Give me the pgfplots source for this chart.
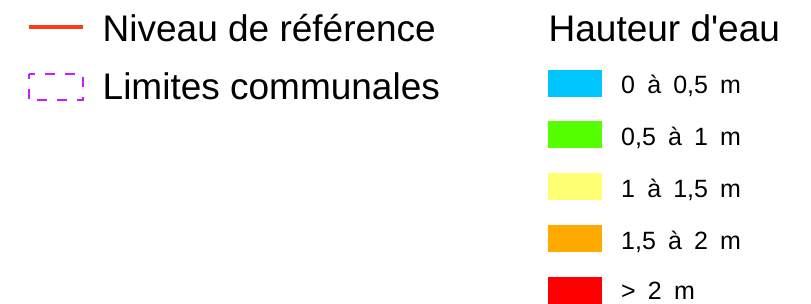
\documentclass[border=0pt]{standalone}
\usepackage{pgfplots}
\pgfplotsset{compat=1.18}
\usepackage{fontspec}
\setmainfont{Liberation Sans}[Ligatures=TeXOff]
\newfontfamily\lblfam{Liberation Sans}[Ligatures=TeX, WordSpace=1.75]
\definecolor{refline}{RGB}{250,60,25}
\definecolor{commune}{RGB}{204,26,255}
\definecolor{c1}{RGB}{0,197,255}
\definecolor{c2}{RGB}{85,255,0}
\definecolor{c3}{RGB}{255,255,115}
\definecolor{c4}{RGB}{255,170,0}
\definecolor{c5}{RGB}{255,0,0}
\newcommand{\lblfont}{\lblfam\fontsize{25}{30}\selectfont}
\begin{document}
\begin{tikzpicture}
\begin{axis}[
  width=811pt, height=304pt, scale only axis,
  xmin=0, xmax=811, ymin=0, ymax=304, y dir=reverse,
  hide axis, clip=false,
]
% background
\addplot[fill=white, draw=none] coordinates {(0,0) (811,0) (811,304) (0,304)} -- cycle;
% reference line
\addplot[refline, line width=4pt] coordinates {(29,27) (83,27)};
% communal limits (dashed box)
\addplot[commune, line width=2pt, dash pattern=on 10pt off 10pt, dash phase=3.3pt]
  coordinates {(28.5,74.5) (83,74.5) (83,100.5) (28.5,100.5)} -- cycle;
% water-depth swatches
\addplot[fill=c1, draw=none] coordinates {(548,70) (602,70) (602,97) (548,97)} -- cycle;
\addplot[fill=c2, draw=none] coordinates {(548,121.5) (602,121.5) (602,148.5) (548,148.5)} -- cycle;
\addplot[fill=c3, draw=none] coordinates {(548,173) (602,173) (602,200) (548,200)} -- cycle;
\addplot[fill=c4, draw=none] coordinates {(548,225) (602,225) (602,252) (548,252)} -- cycle;
\addplot[fill=c5, draw=none] coordinates {(548,277) (602,277) (602,304) (548,304)} -- cycle;
% texts
\node[anchor=base west, inner sep=0pt, font=\fontsize{37}{44}\selectfont] at (axis cs:102.5,41.5) {Niveau de référence};
\node[anchor=base west, inner sep=0pt, font=\fontsize{37}{44}\selectfont] at (axis cs:102.5,100) {Limites communales};
\node[anchor=base west, inner sep=0pt, font=\fontsize{37}{44}\selectfont] at (axis cs:548.5,41.5) {Hauteur d'eau};
\node[anchor=base west, inner sep=0pt, font=\lblfont] at (axis cs:621,94) {0 à 0,5 m};
\node[anchor=base west, inner sep=0pt, font=\lblfont] at (axis cs:621,145.7) {0,5 à 1 m};
\node[anchor=base west, inner sep=0pt, font=\lblfont] at (axis cs:621,197.4) {1 à 1,5 m};
\node[anchor=base west, inner sep=0pt, font=\lblfont] at (axis cs:621,249.1) {1,5 à 2 m};
\node[anchor=base west, inner sep=0pt, font=\lblfont] at (axis cs:621,299.5) {> 2 m};
\end{axis}
\end{tikzpicture}
\end{document}
